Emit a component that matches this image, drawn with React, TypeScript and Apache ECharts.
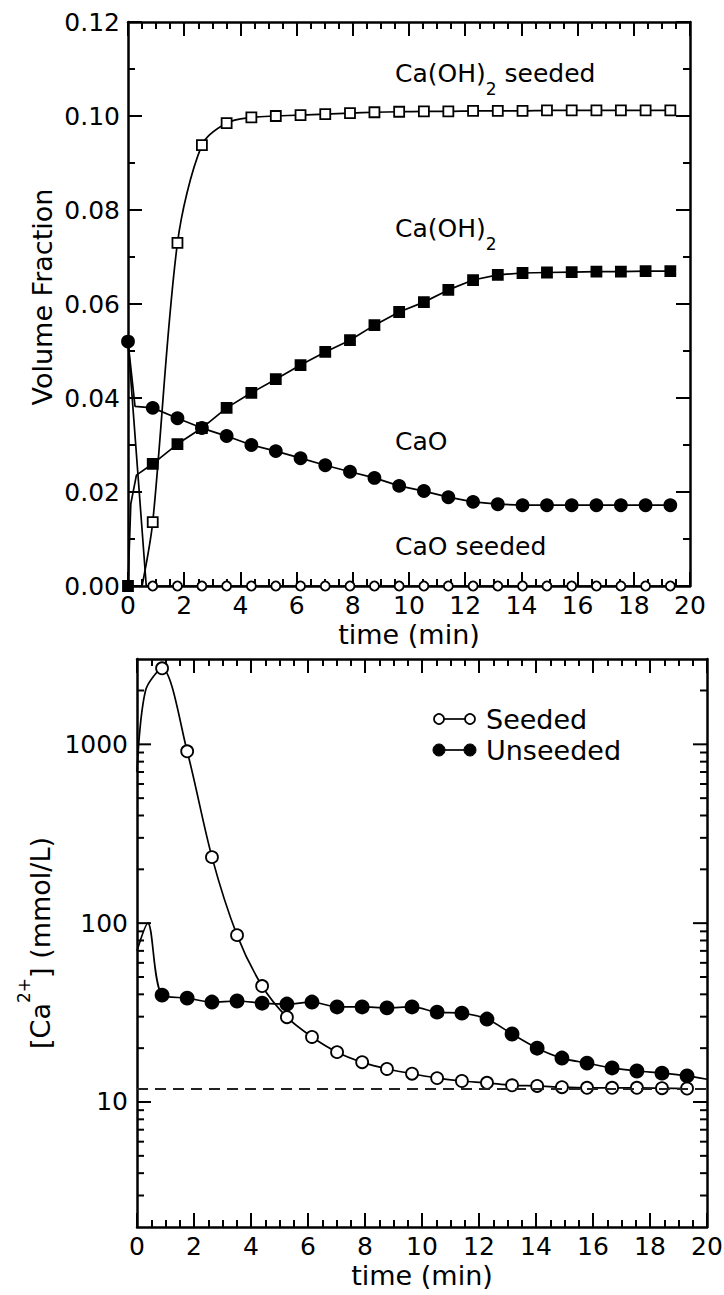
import React, { useEffect, useRef } from 'react';
import * as echarts from 'echarts';

const FONT = 'DejaVu Sans';

// ---------- Top panel: volume fraction vs time (min) ----------
const TIMES = [0, 0.88, 1.76, 2.63, 3.51, 4.39, 5.26, 6.14, 7.02, 7.9, 8.77, 9.65, 10.53, 11.4, 12.28, 13.16, 14.04, 14.91, 15.79, 16.67, 17.54, 18.42, 19.3];
const CAO_UNSEEDED = [0.052, 0.0379, 0.0357, 0.0336, 0.0319, 0.03, 0.0287, 0.0272, 0.0257, 0.0243, 0.023, 0.0213, 0.0202, 0.0189, 0.0179, 0.0174, 0.0172, 0.0172, 0.0172, 0.0172, 0.0172, 0.0172, 0.0172];
const CAOH2_UNSEEDED = [0, 0.026, 0.0302, 0.0336, 0.0379, 0.0411, 0.044, 0.047, 0.0498, 0.0523, 0.0555, 0.0583, 0.0604, 0.063, 0.0651, 0.0662, 0.0666, 0.0667, 0.0668, 0.0669, 0.0669, 0.067, 0.067];
const CAOH2_SEEDED = [0, 0.0136, 0.073, 0.0938, 0.0985, 0.0997, 0.1, 0.1002, 0.1004, 0.1006, 0.1008, 0.1009, 0.101, 0.101, 0.1011, 0.1011, 0.1011, 0.1012, 0.1012, 0.1012, 0.1012, 0.1012, 0.1012];
const CAO_SEEDED = [0.052, 0, 0, 0, 0, 0, 0, 0, 0, 0, 0, 0, 0, 0, 0, 0, 0, 0, 0, 0, 0, 0, 0];
// curve points drawn without a marker
const CAO_UNSEEDED_EXTRA = [[0.25, 0.0382]];
const CAOH2_UNSEEDED_EXTRA = [[0.1, 0.0175], [0.3, 0.0236]];
const CAOH2_SEEDED_START = [[0.5, 0]];
const CAO_SEEDED_EXTRA = [[0.65, 0]];

// ---------- Bottom panel: [Ca2+] (mmol/L) vs time (min) ----------
const CA_TIMES = [0.88, 1.76, 2.63, 3.51, 4.39, 5.26, 6.14, 7.02, 7.9, 8.77, 9.65, 10.53, 11.4, 12.28, 13.16, 14.04, 14.91, 15.79, 16.67, 17.54, 18.42, 19.3];
const CA_SEEDED = [2660, 914, 234, 85.7, 44.5, 29.8, 23.1, 19.0, 16.7, 15.3, 14.4, 13.6, 13.1, 12.8, 12.4, 12.3, 12.1, 12.0, 12.0, 12.0, 11.95, 11.9];
const CA_UNSEEDED = [39.6, 38.1, 36.2, 36.7, 35.7, 35.3, 36.2, 34.0, 34.0, 33.6, 34.0, 31.8, 31.4, 29.1, 24.0, 20.0, 17.6, 16.5, 15.5, 14.9, 14.5, 14.0];
const CA_SEEDED_EXTRA = [[0, 700], [0.3, 2000]];
const CA_UNSEEDED_EXTRA = [[0, 70], [0.38, 100], [20, 13.4]];
const CA_SATURATION = 11.8;

const LOG_MAJOR_TICKS = [10, 100, 1000];
const LOG_MINOR_TICKS = [3, 4, 5, 6, 7, 8, 9, 20, 30, 40, 50, 60, 70, 80, 90, 200, 300, 400, 500, 600, 700, 800, 900, 2000];

const Y_TOP_LABELS = ['0.00', '0.02', '0.04', '0.06', '0.08', '0.10', '0.12'];

function buildData(times: number[], values: number[], extra: number[][], hide: number[] = []) {
  const pts: any[] = times.map((t, i) => {
    const p: any = { value: [t, values[i]] };
    if (hide.includes(i)) p.symbol = 'none';
    return p;
  });
  extra.forEach(([t, v]) => pts.push({ value: [t, v], symbol: 'none' }));
  pts.sort((a, b) => a.value[0] - b.value[0]);
  return pts;
}

const BLACK = '#000';
const axisLineStyle = { show: true, onZero: false, lineStyle: { color: BLACK, width: 2.5 } };
const tickLine = { color: BLACK, width: 2 };
const labelStyle = { color: BLACK, fontFamily: FONT, fontSize: 25 };
const nameStyle = { color: BLACK, fontFamily: FONT, fontSize: 27 };

function xAxisCfg(gridIndex: number, position: 'top' | 'bottom') {
  const bottom = position === 'bottom';
  return {
    gridIndex,
    type: 'value',
    position,
    min: 0,
    max: 20,
    interval: 2,
    axisLine: axisLineStyle,
    axisTick: { show: true, inside: true, length: 14, lineStyle: tickLine },
    minorTick: { show: true, splitNumber: 4, length: 7, lineStyle: tickLine },
    splitLine: { show: false },
    minorSplitLine: { show: false },
    axisLabel: { show: bottom, ...labelStyle, margin: 7 },
    name: bottom ? 'time (min)' : '',
    nameLocation: 'middle',
    nameGap: 35,
    nameMoveOverlap: false,
    nameTextStyle: nameStyle,
  };
}

function lineSeries(name: string, xi: number, yi: number, data: any[], symbol: string, size: number, filled: boolean, smooth: number | boolean) {
  return {
    name,
    type: 'line',
    xAxisIndex: xi,
    yAxisIndex: yi,
    data,
    symbol,
    symbolSize: size,
    showAllSymbol: true,
    smooth,
    lineStyle: { color: BLACK, width: 1.7 },
    itemStyle: { color: filled ? BLACK : '#fff', borderColor: BLACK, borderWidth: 1.8 },
    emphasis: { disabled: true },
    z: filled ? 4 : 3,
  };
}

// subscript: main text top-aligned, small "2" pushed down by a taller line box
const subRich = {
  a: { fontFamily: FONT, fontSize: 25, lineHeight: 25, color: BLACK, verticalAlign: 'top' },
  s: { fontFamily: FONT, fontSize: 17, lineHeight: 36, color: BLACK, verticalAlign: 'bottom' },
};

export default function App() {
  const ref = useRef<HTMLDivElement>(null);
  useEffect(() => {
    if (!ref.current) return;
    const chart = echarts.init(ref.current, null, { renderer: 'svg' });
    const option: any = {
      animation: false,
      backgroundColor: '#fff',
      grid: [
        { left: 128, top: 22, width: 562, height: 564, containLabel: false, outerBoundsMode: 'none' },
        { left: 137, top: 659, width: 570, height: 568, containLabel: false, outerBoundsMode: 'none' },
      ],
      xAxis: [xAxisCfg(0, 'bottom'), xAxisCfg(0, 'top'), xAxisCfg(1, 'bottom'), xAxisCfg(1, 'top')],
      yAxis: [
        {
          gridIndex: 0,
          type: 'value',
          position: 'left',
          min: 0,
          max: 0.12,
          interval: 0.02,
          axisLine: axisLineStyle,
          axisTick: { show: true, inside: true, length: 14, lineStyle: tickLine },
          minorTick: { show: true, splitNumber: 2, length: 7, lineStyle: tickLine },
          splitLine: { show: false },
          minorSplitLine: { show: false },
          axisLabel: {
            ...labelStyle,
            margin: 8,
            formatter: (v: number) => Y_TOP_LABELS[Math.round(v / 0.02)] ?? '',
          },
          name: 'Volume Fraction',
          nameLocation: 'middle',
          nameGap: 72,
          nameMoveOverlap: false,
          nameTextStyle: { ...nameStyle, padding: [0, 0, 0, 14] },
        },
        {
          gridIndex: 0,
          type: 'value',
          position: 'right',
          min: 0,
          max: 0.12,
          interval: 0.02,
          axisLine: axisLineStyle,
          axisTick: { show: true, inside: true, length: 14, lineStyle: tickLine },
          minorTick: { show: true, splitNumber: 2, length: 7, lineStyle: tickLine },
          splitLine: { show: false },
          minorSplitLine: { show: false },
          axisLabel: { show: false },
        },
        {
          gridIndex: 1,
          type: 'log',
          logBase: 10,
          position: 'left',
          min: 2,
          max: 3000,
          axisLine: axisLineStyle,
          axisTick: { show: false },
          splitLine: { show: false },
          axisLabel: {
            ...labelStyle,
            margin: 9,
            formatter: (v: number) => {
              const l = Math.log10(v);
              return Math.abs(l - Math.round(l)) < 1e-6 && Math.round(l) >= 1 ? String(Math.round(v)) : '';
            },
          },
          name: '{a|[Ca}{s|2+}{a|] (mmol/L)}',
          nameLocation: 'middle',
          nameGap: 83,
          nameMoveOverlap: false,
          nameTextStyle: {
            color: BLACK,
            fontFamily: FONT,
            fontSize: 27,
            rich: {
              a: { fontFamily: FONT, fontSize: 27, lineHeight: 27, color: BLACK, verticalAlign: 'bottom' },
              s: { fontFamily: FONT, fontSize: 17, lineHeight: 39, color: BLACK, verticalAlign: 'top' },
            },
          },
        },
        {
          gridIndex: 1,
          type: 'log',
          logBase: 10,
          position: 'right',
          min: 2,
          max: 3000,
          axisLine: axisLineStyle,
          axisTick: { show: false },
          splitLine: { show: false },
          axisLabel: { show: false },
        },
      ],
      series: [
        lineSeries('CaO seeded', 0, 0, buildData(TIMES, CAO_SEEDED, CAO_SEEDED_EXTRA, [0]), 'circle', 9, false, false),
        lineSeries('Ca(OH)2 seeded', 0, 0, buildData(TIMES.slice(1), CAOH2_SEEDED.slice(1), CAOH2_SEEDED_START), 'rect', 10, false, 0.3),
        lineSeries('Ca(OH)2', 0, 0, buildData(TIMES, CAOH2_UNSEEDED, CAOH2_UNSEEDED_EXTRA), 'rect', 10, true, false),
        lineSeries('CaO', 0, 0, buildData(TIMES, CAO_UNSEEDED, CAO_UNSEEDED_EXTRA), 'circle', 12, true, false),
        {
          ...lineSeries('Seeded', 2, 2, buildData(CA_TIMES, CA_SEEDED, CA_SEEDED_EXTRA), 'circle', 12, false, 0.3),
          markLine: {
            silent: true,
            symbol: 'none',
            label: { show: false },
            lineStyle: { color: '#222', width: 2, type: [11, 7] },
            data: [{ yAxis: CA_SATURATION }],
          },
        },
        lineSeries('Unseeded', 2, 2, buildData(CA_TIMES, CA_UNSEEDED, CA_UNSEEDED_EXTRA), 'circle', 13, true, 0.3),
        {
          type: 'custom',
          xAxisIndex: 2,
          yAxisIndex: 2,
          silent: true,
          clip: false,
          data: [...LOG_MAJOR_TICKS, ...LOG_MINOR_TICKS].map((v) => [0, v]),
          encode: { x: 0, y: 1 },
          renderItem: (params: any, api: any) => {
            const v = api.value(1);
            const y = api.coord([0, v])[1];
            const cs = params.coordSys;
            const len = LOG_MAJOR_TICKS.includes(v) ? 14 : 7;
            const st = { stroke: BLACK, lineWidth: 2 };
            return {
              type: 'group',
              children: [
                { type: 'line', shape: { x1: cs.x, y1: y, x2: cs.x + len, y2: y }, style: st },
                { type: 'line', shape: { x1: cs.x + cs.width, y1: y, x2: cs.x + cs.width - len, y2: y }, style: st },
              ],
            };
          },
        },
      ],
      graphic: [
        {
          type: 'text',
          x: 395,
          y: 61,
          style: { text: '{a|Ca(OH)}{s|2}{a| seeded}', fill: BLACK, verticalAlign: 'top', rich: subRich },
        },
        {
          type: 'text',
          x: 395,
          y: 216,
          style: { text: '{a|Ca(OH)}{s|2}', fill: BLACK, verticalAlign: 'top', rich: subRich },
        },
        {
          type: 'text',
          x: 395,
          y: 441,
          style: { text: 'CaO', fill: BLACK, fontFamily: FONT, fontSize: 25, verticalAlign: 'middle' },
        },
        {
          type: 'text',
          x: 395,
          y: 546,
          style: { text: 'CaO seeded', fill: BLACK, fontFamily: FONT, fontSize: 25, verticalAlign: 'middle' },
        },
        // legend of bottom panel
        { type: 'line', shape: { x1: 439, y1: 719, x2: 470, y2: 719 }, style: { stroke: BLACK, lineWidth: 1.7 } },
        { type: 'circle', shape: { cx: 439, cy: 719, r: 5 }, style: { fill: '#fff', stroke: BLACK, lineWidth: 1.7 } },
        { type: 'circle', shape: { cx: 470, cy: 719, r: 5 }, style: { fill: '#fff', stroke: BLACK, lineWidth: 1.7 } },
        {
          type: 'text',
          x: 486,
          y: 719,
          style: { text: 'Seeded', fill: BLACK, fontFamily: FONT, fontSize: 27, verticalAlign: 'middle' },
        },
        { type: 'line', shape: { x1: 439, y1: 750, x2: 470, y2: 750 }, style: { stroke: BLACK, lineWidth: 1.7 } },
        { type: 'circle', shape: { cx: 439, cy: 750, r: 6 }, style: { fill: BLACK, stroke: BLACK, lineWidth: 1 } },
        { type: 'circle', shape: { cx: 470, cy: 750, r: 6 }, style: { fill: BLACK, stroke: BLACK, lineWidth: 1 } },
        {
          type: 'text',
          x: 486,
          y: 750,
          style: { text: 'Unseeded', fill: BLACK, fontFamily: FONT, fontSize: 27, verticalAlign: 'middle' },
        },
      ],
    };
    chart.setOption(option);
    return () => chart.dispose();
  }, []);
  return <div ref={ref} style={{ position: 'absolute', left: 0, top: 0, width: 724, height: 1295 }} />;
}
